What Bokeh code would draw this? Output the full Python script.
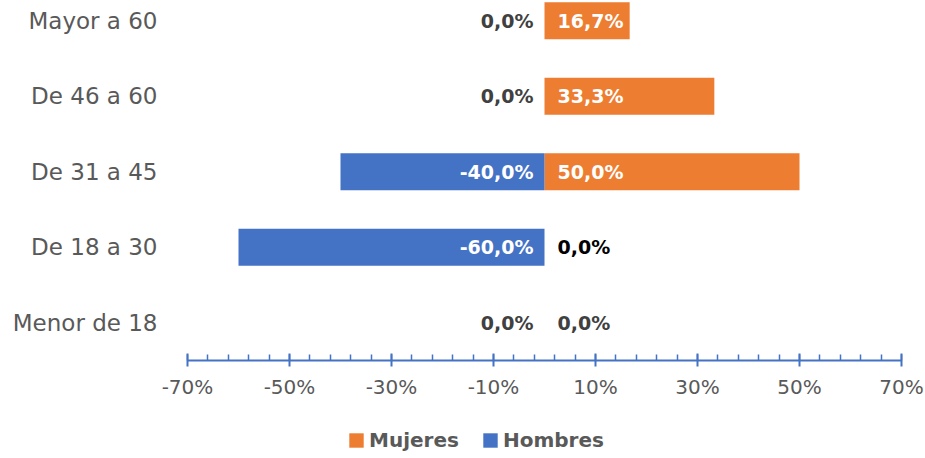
from bokeh.plotting import figure
from bokeh.layouts import column
from bokeh.models import (Range1d, FixedTicker, PrintfTickFormatter, ColumnDataSource,
                          Legend, LegendItem)
from bokeh.core.properties import value
from bokeh.embed import file_html
from bokeh.resources import INLINE

# ---- data ----
categories = ["Mayor a 60", "De 46 a 60", "De 31 a 45", "De 18 a 30", "Menor de 18"]
mujeres = [16.7, 33.3, 50.0, 0.0, 0.0]
hombres = [0.0, 0.0, -40.0, -60.0, 0.0]
series_names = ["Mujeres", "Hombres"]
x_ticks = [-70, -50, -30, -10, 10, 30, 50, 70]
minor_ticks = list(range(-70, 71, 4))

# label colours (style)
muj_label_colors = ["white", "white", "white", "#000000", "#404040"]
hom_label_colors = ["#404040", "#404040", "white", "white", "#404040"]

ORANGE = "#ED7D31"
BLUE = "#4472C4"
GRAY = "#595959"
FONT = "DejaVu Sans"

ypos = list(range(len(categories) - 1, -1, -1))  # top to bottom


def fmt(v):
    return f"{v:.1f}".replace(".", ",") + "%"


src = ColumnDataSource(dict(
    y=ypos,
    muj=mujeres,
    hom=hombres,
    muj_txt=[fmt(v) for v in mujeres],
    hom_txt=[fmt(v) for v in hombres],
    muj_col=muj_label_colors,
    hom_col=hom_label_colors,
    zero=[0] * len(categories),
))

p = figure(width=925, height=415, output_backend="svg", toolbar_location=None,
           x_range=Range1d(-70, 70), y_range=Range1d(-0.5, 4.268),
           min_border_left=187, min_border_right=24, min_border_top=0,
           min_border_bottom=55)
p.outline_line_color = None
p.xgrid.visible = False
p.ygrid.visible = False

p.hbar(y="y", left="zero", right="muj", height=0.49, source=src,
       fill_color=ORANGE, line_color=None)
p.hbar(y="y", left="zero", right="hom", height=0.49, source=src,
       fill_color=BLUE, line_color=None)

p.text(x="zero", y="y", text="muj_txt", source=src, x_offset=13,
       text_align="left", text_baseline="middle", text_color="muj_col",
       text_font=value(FONT), text_font_size="19px", text_font_style="bold")
p.text(x="zero", y="y", text="hom_txt", source=src, x_offset=-11,
       text_align="right", text_baseline="middle", text_color="hom_col",
       text_font=value(FONT), text_font_size="19px", text_font_style="bold")

# x axis
xa = p.xaxis[0]
xa.ticker = FixedTicker(ticks=x_ticks, minor_ticks=minor_ticks)
xa.formatter = PrintfTickFormatter(format="%d%%")
xa.axis_line_color = BLUE
xa.axis_line_width = 2
xa.major_tick_line_color = BLUE
xa.major_tick_line_width = 2
xa.major_tick_in = 7
xa.major_tick_out = 6
xa.minor_tick_line_color = BLUE
xa.minor_tick_line_width = 1.5
xa.minor_tick_in = 6
xa.minor_tick_out = 0
xa.major_label_standoff = 8
xa.major_label_text_font = FONT
xa.major_label_text_font_size = "20px"
xa.major_label_text_color = GRAY

# y axis
ya = p.yaxis[0]
ya.ticker = FixedTicker(ticks=ypos)
ya.major_label_overrides = {y: c for y, c in zip(ypos, categories)}
ya.axis_line_color = None
ya.major_tick_line_color = None
ya.minor_tick_line_color = None
ya.major_tick_in = 0
ya.major_tick_out = 0
ya.major_label_standoff = 30
ya.major_label_text_font = FONT
ya.major_label_text_font_size = "23px"
ya.major_label_text_color = GRAY

# ---- legend strip ----
lg = figure(width=925, height=43, output_backend="svg", toolbar_location=None,
            x_axis_type=None, y_axis_type=None, x_range=Range1d(0, 1),
            y_range=Range1d(0, 1), min_border=0)
lg.outline_line_color = None
lg.xgrid.visible = False
lg.ygrid.visible = False
nodata = ColumnDataSource(dict(y=[float("nan")], left=[float("nan")],
                               right=[float("nan")]))
r1 = lg.hbar(y="y", left="left", right="right", height=0.5, source=nodata,
             fill_color=ORANGE, line_color=None)
r2 = lg.hbar(y="y", left="left", right="right", height=0.5, source=nodata,
             fill_color=BLUE, line_color=None)
legend = Legend(items=[LegendItem(label=series_names[0], renderers=[r1]),
                       LegendItem(label=series_names[1], renderers=[r2])],
                orientation="horizontal", location=(160, 6),
                glyph_width=18, glyph_height=18, label_standoff=4, spacing=22,
                padding=0, margin=0, border_line_color=None,
                background_fill_alpha=0,
                label_text_font=FONT, label_text_font_size="20px",
                label_text_font_style="bold", label_text_color=GRAY)
lg.add_layout(legend, "center")

layout = column(p, lg, spacing=0)
open("out.html", "w").write(file_html(layout, INLINE))
